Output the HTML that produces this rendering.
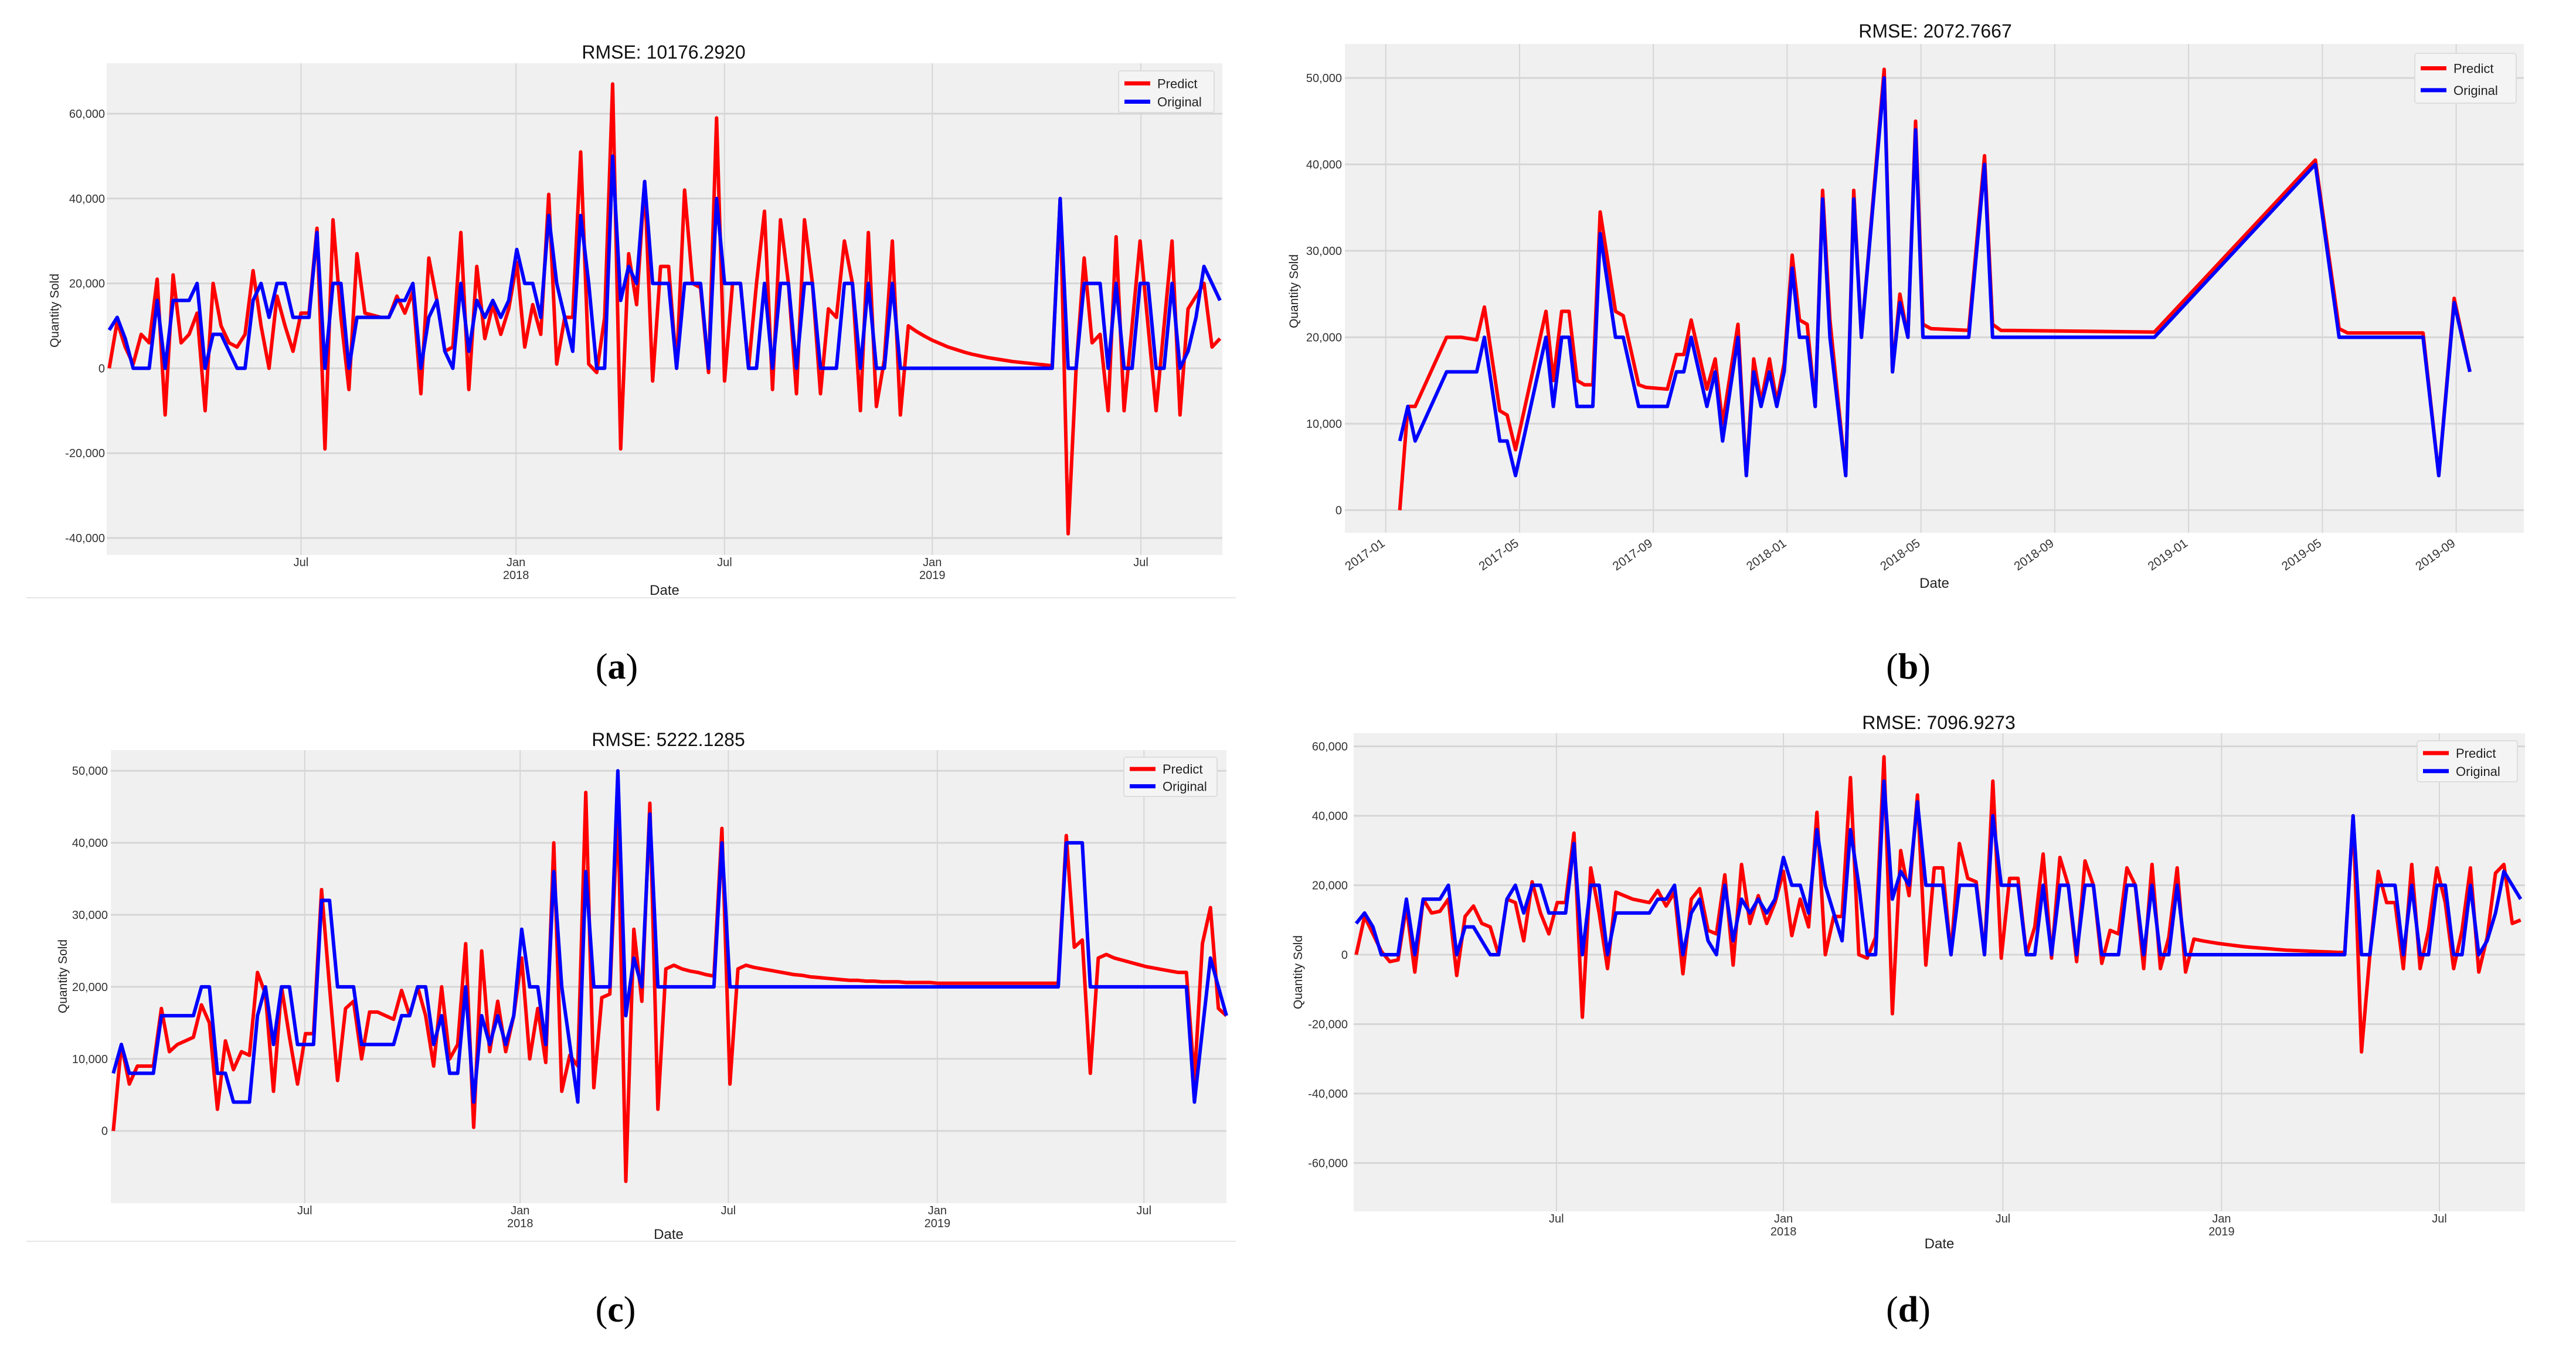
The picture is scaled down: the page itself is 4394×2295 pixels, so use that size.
<!DOCTYPE html>
<html><head><meta charset="utf-8"><title>RMSE charts</title>
<style>html,body{margin:0;padding:0;background:#fff;}svg{display:block;}</style></head>
<body>
<svg id="fig" xmlns="http://www.w3.org/2000/svg" width="4394" height="2295" viewBox="0 0 4394 2295" font-family="Liberation Sans, sans-serif">
<rect width="4394" height="2295" fill="#ffffff"/>
</svg>
<script>
// ---------- data (values in thousands) ----------
const weeksCount = 140;
const aOrig = [9,12,7,0,0,0,16,0,16,16, 16,20,0,8,8,4,0,0,16,20, 12,20,20,12,12,12,32,0,20,20, 0,12,12,12,12,12,16,16,20,0, 12,16,4,0,20,4,16,12,16,12, 16,28,20,20,12,36,20,12,4,36, 20,0,0,50,16,24,20,44,20,20, 20,0,20,20,20,0,40,20,20,20, 0,0,20,0,20,20,0,20,20,0, 0,0,20,20,0,20,0,0,20,0, 0,0,0,0,0,0,0,0,0,0, 0,0,0,0,0,0,0,0,0,40, 0,0,20,20,20,0,20,0,0,20, 20,0,0,20,0,4,12,24,20,16];
const aPred = [0,11,5,1,8,6,21,-11,22,6, 8,13,-10,20,10,6,5,8,23,10, 0,17,10,4,13,13,33,-19,35,12, -5,27,13,12.5,12,12,17,13,18,-6, 26,16,4,5,32,-5,24,7,15,8, 14,25,5,15,8,41,1,12,12,51, 1,-1,12,67,-19,27,15,44,-3,24, 24,0,42,20,19,-1,59,-3,20,20, 0,20,37,-5,35,20,-6,35,20,-6, 14,12,30,20,-10,32,-9,2,30,-11, 10,8.7,7.6,6.6,5.8,5,4.4,3.8,3.3,2.9, 2.5,2.2,1.9,1.6,1.4,1.2,1,0.8,0.6,40, -39,0,26,6,8,-10,31,-10,10,30, 10,-10,10,30,-11,14,17,20,5,7];
const dOrig = [9,12,8,0,0,0,16,0,16,16, 16,20,0,8,8,4,0,0,16,20, 12,20,20,12,12,12,32,0,20,20, 0,12,12,12,12,12,16,16,20,0, 12,16,4,0,20,4,16,12,16,12, 16,28,20,20,12,36,20,12,4,36, 20,0,0,50,16,24,20,44,20,20, 20,0,20,20,20,0,40,20,20,20, 0,0,20,0,20,20,0,20,20,0, 0,0,20,20,0,20,0,0,20,0, 0,0,0,0,0,0,0,0,0,0, 0,0,0,0,0,0,0,0,0,40, 0,0,20,20,20,0,20,0,0,20, 20,0,0,20,0,4,12,24,20,16];
const dPred = [0,11,6,1,-2,-1.5,14,-5,16,12, 12.5,16,-6,11,14,9,8,0,16,15, 4,21,12,6,15,15,35,-18,25,12, -4,18,17,16,15.5,15,18.5,14,18,-5.5, 16,19,7,6,23,-3,26,9,17,9, 15,24,5.5,16,8,41,0,11,11,51, 0,-1,5,57,-17,30,17,46,-3,25, 25,0,32,22,21,0,50,-1,22,22, 0,8,29,-1,28,20,-2,27,20,-2.5, 7,6,25,20,-4,26,-4,5,25,-5, 4.5,4,3.6,3.2,2.9,2.6,2.3,2.1,1.9,1.7, 1.5,1.3,1.2,1.1,1,0.9,0.8,0.7,0.6,40, -28,0,24,15,15,-4,26,-4,7,25, 15,-4,7,25,-5,5,23.5,26,9,10];
const cOrig = [8,12,8,8,8,8,16,16,16,16, 16,20,20,8,8,4,4,4,16,20, 12,20,20,12,12,12,32,32,20,20, 20,12,12,12,12,12,16,16,20,20, 12,16,8,8,20,4,16,12,16,12, 16,28,20,20,12,36,20,12,4,36, 20,20,20,50,16,24,20,44,20,20, 20,20,20,20,20,20,40,20,20,20, 20,20,20,20,20,20,20,20,20,20, 20,20,20,20,20,20,20,20,20,20, 20,20,20,20,20,20,20,20,20,20, 20,20,20,20,20,20,20,20,20,40, 40,40,20,20,20,20,20,20,20,20, 20,20,20,20,20,4,14,24,20,16];
const cPred = [0,12,6.5,9,9,9,17,11,12,12.5, 13,17.5,15,3,12.5,8.5,11,10.5,22,19, 5.5,20,13,6.5,13.5,13.5,33.5,20,7,17, 18,10,16.5,16.5,16,15.5,19.5,16,20,16, 9,20,10,12,26,0.5,25,11,18,11, 16,24,10,17,9.5,40,5.5,10.5,9,47, 6,18.5,19,45,-7,28,18,45.5,3,22.5, 23,22.5,22.2,22,21.7,21.5,42,6.5,22.5,23, 22.7,22.5,22.3,22.1,21.9,21.7,21.6,21.4,21.3,21.2, 21.1,21,20.9,20.9,20.8,20.8,20.7,20.7,20.7,20.6, 20.6,20.6,20.6,20.5,20.5,20.5,20.5,20.5,20.5,20.5, 20.5,20.5,20.5,20.5,20.5,20.5,20.5,20.5,20.5,41, 25.5,26.5,8,24,24.5,24,23.7,23.4,23.1,22.8, 22.6,22.4,22.2,22,22,7,26,31,17,16];
// panel b: x in months since 2017-01
const bMonths = [0.42,0.66,0.88,1.82,2.26,2.72,2.95,3.41,3.63,3.88, 4.79,5.01,5.26,5.48,5.72,5.94,6.19,6.41,6.87,7.10, 7.56,7.78,8.42,8.69,8.91,9.13,9.60,9.85,10.07,10.53, 10.78,11.00,11.22,11.47,11.69,11.91,12.15,12.37,12.60,12.84, 13.06,13.28,13.75,13.99,14.22,14.90,15.15,15.37,15.61,15.84, 16.06,16.30,17.43,17.90,18.14,18.39,22.98,27.79,28.50,28.75, 31.01,31.48,31.94,32.41];
const bOrig = [8,12,8,16,16,16,20,8,8,4, 20,12,20,20,12,12,12,32,20,20, 12,12,12,16,16,20,12,16,8,20, 4,16,12,16,12,16,28,20,20,12, 36,20,4,36,20,50,16,24,20,44, 20,20,20,40,20,20,20,40,20,20, 20,4,24,16];
const bPred = [0,12,12,20,20,19.7,23.5,11.5,11,7, 23,15,23,23,15,14.5,14.5,34.5,23,22.5, 14.5,14.2,14,18,18,22,14,17.5,10,21.5, 4,17.5,12.5,17.5,12.5,17,29.5,22,21.5,12, 37,22,4,37,20,51,16,25,20,45, 21.5,21,20.8,41,21.5,20.8,20.6,40.5,21,20.5, 20.5,4,24.5,16];
// tick data
const dateTickWeeksA = [24,50.9,77,103,129.1];
const dateTickWeeksC = [23.9,50.8,76.8,102.9,128.7];
const dateTickWeeksD = [23.9,51,77.2,103.3,129.3];
const dateTickLabels = ["Jul","Jan","Jul","Jan","Jul"];
const dateTickYears = ["","2018","","2019",""];
const bTickMonths = [0,4,8,12,16,20,24,28,32];
const bTickLabels = ["2017-01","2017-05","2017-09","2018-01","2018-05","2018-09","2019-01","2019-05","2019-09"];
const yTicksA = [60,40,20,0,-20,-40];
const yTicksB = [50,40,30,20,10,0];
const yTicksC = [50,40,30,20,10,0];
const yTicksD = [60,40,20,0,-20,-40,-60];

// ---------- drawing ----------
const svg = document.getElementById('fig');
const NS = 'http://www.w3.org/2000/svg';
function mk(tag, attrs, parent, txt){
  const e = document.createElementNS(NS, tag);
  for (const k in attrs) e.setAttribute(k, attrs[k]);
  if (txt !== undefined) e.textContent = txt;
  (parent||svg).appendChild(e);
  return e;
}
function lin(d0,d1,r0,r1){ return v => r0 + (v-d0)*(r1-r0)/(d1-d0); }
function fmt(v){ const n=Math.abs(v*1000); const s=n.toLocaleString('en-US'); return (v<0?'-':'')+s; }

function panel(cfg){
  const g = mk('g', {});
  
  
  const p = cfg.plot;
  const bg = mk('rect', {x:p.x0, y:p.y0, width:p.x1-p.x0, height:p.y1-p.y0, fill:'#f0f0f0'}, g);
  
  
  cfg.yTicks.forEach(v => {
    const y = cfg.ys(v);
    const gl = mk('line', {x1:p.x0, x2:p.x1, y1:y, y2:y, stroke:'#d6d6d6', 'stroke-width':3}, g);
    
    
    const t = mk('text', {x:cfg.yLabelX, y:y+7, 'text-anchor':'end', 'font-size':20, fill:'#333'}, g, fmt(v));
    
    
  });
  cfg.xTicks.forEach((xv,i) => {
    const x = cfg.xs(xv);
    const gl = mk('line', {x1:x, x2:x, y1:p.y0, y2:p.y1, stroke:'#d6d6d6', 'stroke-width':2}, g);
    
    
    if (cfg.rotate){
      const t = mk('text', {x:x, y:cfg.xLabelY, 'text-anchor':'end', 'font-size':21, fill:'#333', transform:`rotate(-35 ${x} ${cfg.xLabelY})`}, g, cfg.xLabels[i]);
      
      
    } else {
      const t = mk('text', {x:x, y:cfg.xLabelY, 'text-anchor':'middle', 'font-size':20, fill:'#333'}, g, cfg.xLabels[i]);
      
      
      if (cfg.xYears[i]) {
        const t2 = mk('text', {x:x, y:cfg.xLabelY+22, 'text-anchor':'middle', 'font-size':20, fill:'#333'}, g, cfg.xYears[i]);
        
        
      }
    }
  });
  function path(xsArr, vals, color, nm){
    let d = '';
    vals.forEach((v,i) => { d += (i?'L':'M') + cfg.xs(xsArr[i]).toFixed(1) + ' ' + cfg.ys(v).toFixed(1); });
    const pe = mk('path', {d:d, fill:'none', stroke:color, 'stroke-width':6, 'stroke-linejoin':'round'}, g);
    
    
  }
  path(cfg.xData, cfg.pred, '#ff0000', 'predict-line');
  path(cfg.xData, cfg.orig, '#0000ff', 'original-line');
  const tt = mk('text', {x:cfg.titleX, y:cfg.titleY, 'text-anchor':'middle', 'font-size':32, fill:'#111'}, g, cfg.title);
  
  
  const xt = mk('text', {x:(p.x0+p.x1)/2, y:cfg.dateY, 'text-anchor':'middle', 'font-size':24, fill:'#222'}, g, 'Date');
  
  
  const yt = mk('text', {x:cfg.yTitleX, y:cfg.yTitleY, 'text-anchor':'middle', 'font-size':21, fill:'#222', transform:`rotate(-90 ${cfg.yTitleX} ${cfg.yTitleY})`}, g, 'Quantity Sold');
  
  
  const L = cfg.legend;
  const lg = mk('g', {}, g);
  
  
  mk('rect', {x:L.x, y:L.y, width:L.w, height:L.h, fill:'#f4f4f4', stroke:'#dddddd', 'stroke-width':2, rx:4}, lg);
  [['Predict','#ff0000'],['Original','#0000ff']].forEach((it,i) => {
    const ry = L.y + L.h*(i===0?0.3:0.74);
    const ln = mk('line', {x1:L.x+10, x2:L.x+54, y1:ry, y2:ry, stroke:it[1], 'stroke-width':7}, lg);
    
    
    const tx = mk('text', {x:L.x+66, y:ry+8, 'font-size':22, fill:'#222'}, lg, it[0]);
    
    
  });
  const cap = mk('text', {x:cfg.capX, y:cfg.capY, 'text-anchor':'middle', 'font-size':62, 'font-family':'Liberation Serif, serif', fill:'#000'}, g);
  
  
  mk('tspan', {}, cap, '(');
  mk('tspan', {'font-weight':'bold'}, cap, cfg.cap);
  mk('tspan', {}, cap, ')');
  if (cfg.sepY) {
    const s = mk('line', {x1:45, x2:2108, y1:cfg.sepY, y2:cfg.sepY, stroke:'#e6e6e6', 'stroke-width':2}, g);
    
    
  }
}
const weeks = Array.from({length: weeksCount}, (_, i) => i);

panel({name:'chart-a', plot:{x0:182,x1:2085,y0:108,y1:947},
  xs: lin(0,139,186.3,2081), ys: lin(0,60,628.4,194),
  yTicks:yTicksA, yLabelX:179, xTicks:dateTickWeeksA, xLabels:dateTickLabels, xYears:dateTickYears, xLabelY:966,
  xData:weeks, pred:aPred, orig:aOrig, title:'RMSE: 10176.2920', titleX:1132, titleY:100,
  dateY:1015, yTitleX:100, yTitleY:530, legend:{x:1908,y:121,w:163,h:71}, cap:'a', capX:1052, capY:1158, sepY:1020});

panel({name:'chart-b', plot:{x0:2294,x1:4305,y0:75,y1:909},
  xs: lin(0,32,2363.7,4189.6), ys: lin(0,50,870.5,133),
  yTicks:yTicksB, yLabelX:2289, xTicks:bTickMonths, xLabels:bTickLabels, xYears:[], xLabelY:930, rotate:true,
  xData:bMonths, pred:bPred, orig:bOrig, title:'RMSE: 2072.7667', titleX:3301, titleY:64,
  dateY:1003, yTitleX:2214, yTitleY:497, legend:{x:4119,y:91,w:173,h:85}, cap:'b', capX:3255, capY:1158});

panel({name:'chart-c', plot:{x0:189,x1:2092,y0:1280,y1:2053},
  xs: lin(0,139,193.3,2092), ys: lin(0,50,1929.7,1315.2),
  yTicks:yTicksC, yLabelX:184, xTicks:dateTickWeeksC, xLabels:dateTickLabels, xYears:dateTickYears, xLabelY:2072,
  xData:weeks, pred:cPred, orig:cOrig, title:'RMSE: 5222.1285', titleX:1140, titleY:1273,
  dateY:2114, yTitleX:114, yTitleY:1666, legend:{x:1917,y:1292,w:159,h:67}, cap:'c', capX:1050, capY:2255, sepY:2118});

panel({name:'chart-d', plot:{x0:2309,x1:4307,y0:1251,y1:2067},
  xs: lin(0,139,2313.3,4299.6), ys: lin(0,60,1629,1273.5),
  yTicks:yTicksD, yLabelX:2299, xTicks:dateTickWeeksD, xLabels:dateTickLabels, xYears:dateTickYears, xLabelY:2086,
  xData:weeks, pred:dPred, orig:dOrig, title:'RMSE: 7096.9273', titleX:3307, titleY:1244,
  dateY:2130, yTitleX:2221, yTitleY:1659, legend:{x:4123,y:1264,w:171,h:70}, cap:'d', capX:3255, capY:2255});
</script>
</body></html>
